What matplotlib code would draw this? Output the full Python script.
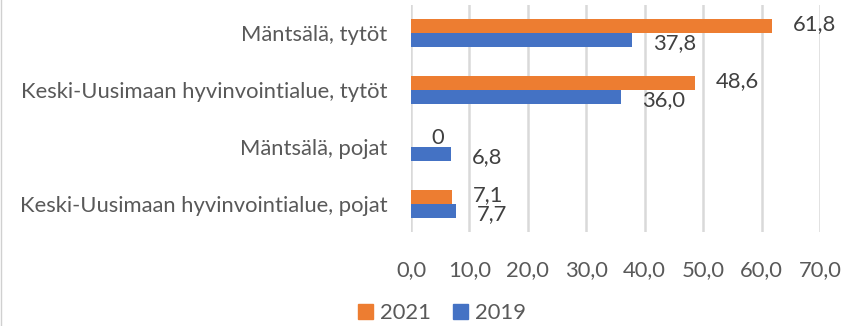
import matplotlib.pyplot as plt
from matplotlib.lines import Line2D
from matplotlib.patches import Patch

plt.rcParams['font.family'] = ['Lato', 'DejaVu Sans']

categories = ['Keski-Uusimaan hyvinvointialue, pojat', 'Mäntsälä, pojat',
              'Keski-Uusimaan hyvinvointialue, tytöt', 'Mäntsälä, tytöt']
values_2021 = [7.1, 0.0, 48.6, 61.8]
values_2019 = [7.7, 6.8, 36.0, 37.8]
labels_2021 = ['7,1', '0', '48,6', '61,8']
labels_2019 = ['7,7', '6,8', '36,0', '37,8']
ticks = [0, 10, 20, 30, 40, 50, 60, 70]

orange = '#ED7D31'
blue = '#4472C4'
text_col = '#595959'
fs = 15.8

fig = plt.figure(figsize=(8.68, 3.26), dpi=100)
ax = fig.add_axes([411 / 868, 1 - 232 / 326, 409 / 868, 227 / 326])

h = 0.25
ypos = list(range(len(categories)))
ax.barh([y + h / 2 for y in ypos], values_2021, height=h, color=orange, zorder=3)
ax.barh([y - h / 2 for y in ypos], values_2019, height=h, color=blue, zorder=3)

# data labels, offset to the right of each bar end
for y, v, s in zip(ypos, values_2021, labels_2021):
    ax.annotate(s, (v, y + h / 2), xytext=(15, 1), textcoords='offset points',
                va='center', ha='left', fontsize=fs, color='#404040', clip_on=False)
for y, v, s in zip(ypos, values_2019, labels_2019):
    ax.annotate(s, (v, y - h / 2), xytext=(15, -2), textcoords='offset points',
                va='center', ha='left', fontsize=fs, color='#404040', clip_on=False)

ax.set_xlim(0, 70)
ax.set_ylim(-0.49, 3.49)
ax.set_xticks(ticks)
ax.set_xticklabels([f'{t:.1f}'.replace('.', ',') for t in ticks], fontsize=fs, color=text_col)
ax.set_yticks(ypos)
ax.set_yticklabels(categories, fontsize=fs, color=text_col)
ax.tick_params(axis='both', length=0)
ax.tick_params(axis='x', pad=20)
ax.tick_params(axis='y', pad=17)
ax.grid(axis='x', color='#D9D9D9', linewidth=1.8, zorder=0)
for side in ['top', 'right', 'bottom', 'left']:
    ax.spines[side].set_visible(False)

handles = [Patch(color=orange, label='2021'), Patch(color=blue, label='2019')]
fig.legend(handles=handles, loc='center', bbox_to_anchor=(442 / 868, 1 - 313 / 326),
           ncol=2, frameon=False, fontsize=fs, handlelength=0.7, handleheight=0.7,
           handletextpad=0.3, columnspacing=1.0, labelcolor=text_col)

# thin frame line on the left edge
fig.add_artist(Line2D([0.5 / 868, 0.5 / 868], [0, 1], color='#D0D0D0', linewidth=1,
                      transform=fig.transFigure))

fig.savefig('out.png', dpi=100)
